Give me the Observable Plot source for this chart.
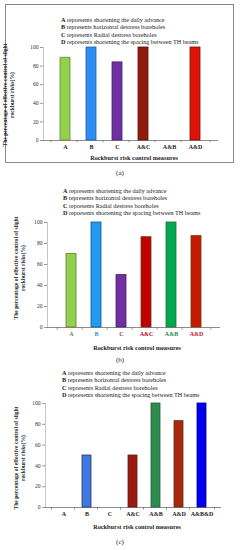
<!DOCTYPE html>
<html><head><meta charset="utf-8">
<script src="https://cdn.jsdelivr.net/npm/d3@7"></script>
<script src="https://cdn.jsdelivr.net/npm/@observablehq/plot@0.6"></script>
<style>
body{margin:0;background:#fff;font-family:"Liberation Serif",serif;}
#root{position:relative;width:240px;height:550px;overflow:hidden;}
.panel{position:absolute;left:0;width:240px;}
.panel svg{position:absolute;left:0;top:0;overflow:visible;}
.leg{position:absolute;font-size:6.2px;white-space:nowrap;color:#222;line-height:1;}
.leg b{font-weight:bold;}
.xt{position:absolute;font-size:6.3px;font-weight:bold;white-space:nowrap;transform:translateX(-50%);color:#222;}
.cap{position:absolute;font-size:7px;white-space:nowrap;transform:translateX(-50%);color:#222;}
.yt{position:absolute;font-size:5.6px;font-weight:bold;white-space:nowrap;transform-origin:0 0;color:#222;line-height:1;}
.box{position:absolute;border:1px solid #8a8a8a;}
</style></head>
<body><div id="root"></div>
<script>
const legendLines = [
  ["A", " represents shortening the daily  advance"],
  ["B", " represents  horizontal destress boreholes"],
  ["C", " represents Radial destress boreholes"],
  ["D", " represents shortening the spacing between TH beams"]
];
const yTicks = [0, 20, 40, 60, 80, 100];
const xTitle = "Rockburst risk control measures";
const yTitle1 = "The percentage of effective control of slight";
const yTitle2 = "rockburst risks(%)";

const catsA = ["A", "B", "C", "A&C", "A&B", "A&D"];
const valsA = [89, 100, 84, 100, null, 100];
const fillA = ["#92d050", "#2f8cf0", "#7030a0", "#8e1b0c", "#ffffff", "#e01208"];
const lineA = ["#6b8a2a", "#1f5fb0", "#4a2070", "#5a1208", "#ffffff", "#6a1a08"];

const catsB = ["A", "B", "C", "A&C", "A&B", "A&D"];
const valsB = [70, 100, 50, 86, 100, 87];
const fillB = ["#92d050", "#1f9bf0", "#7030a0", "#c00000", "#00a850", "#c41a00"];
const lineB = ["#6b7a2a", "#20508a", "#4a2070", "#6a3a10", "#2a6a3a", "#6a3a10"];
const labB  = ["#6b8a2a", "#1f8fe0", "#7030a0", "#b00010", "#1a8a4a", "#c01030"];

const catsC = ["A", "B", "C", "A&C", "A&B", "A&D", "A&B&D"];
const valsC = [0, 50, 0, 50, 100, 83, 100];
const fillC = ["#ffffff", "#3c7ae0", "#ffffff", "#9a1a10", "#2e8b50", "#a8280c", "#0000f0"];
const lineC = ["#ffffff", "#303060", "#ffffff", "#5a2010", "#2a5a3a", "#6a2a10", "#00008a"];

function panel(cfg) {
  const root = document.getElementById("root");
  const div = document.createElement("div");
  div.className = "panel";
  div.style.top = cfg.top + "px";
  div.style.height = cfg.height + "px";
  root.appendChild(div);

  if (cfg.box) {
    const b = document.createElement("div");
    b.className = "box";
    Object.assign(b.style, cfg.box);
    div.appendChild(b);
  }

  const data = cfg.cats.map((c, i) => ({cat: c, value: cfg.vals[i]}));
  const bars = data.filter(d => d.value != null && d.value > 0);
  const n = cfg.cats.length;
  const step = (240 - cfg.ml - cfg.mr) / n;

  const marks = [
    Plot.frame({anchor: "left", stroke: "#b8b8b8", strokeWidth: 0.8}),
    Plot.frame({anchor: "bottom", stroke: "#707070", strokeWidth: 0.8}),
    Plot.ruleX(cfg.cats, {x: d => d, dx: -step / 2, y1: 0, y2: -2.6, stroke: "#707070", strokeWidth: 0.7}),
    Plot.ruleX([cfg.cats[n - 1]], {x: d => d, dx: step / 2, y1: 0, y2: -2.6, stroke: "#707070", strokeWidth: 0.7}),
    Plot.barY(bars, {x: "cat", y: "value", fill: "cat", stroke: d => cfg.line[cfg.cats.indexOf(d.cat)], strokeWidth: 0.8}),
    Plot.axisY({ticks: yTicks, tickSize: 3, tickPadding: 2, fontSize: 5.6, fill: "#333", stroke: "#999", tickFormat: d => d, label: null}),
    Plot.axisX({tickSize: 0, tickPadding: 4, fontSize: 6, fontWeight: "bold",
      fill: cfg.labColors ? (d => cfg.labColors[cfg.cats.indexOf(d)]) : "#222", label: null})
  ];

  const svg = Plot.plot({
    width: 240, height: cfg.height,
    marginTop: cfg.mt, marginBottom: cfg.mb, marginLeft: cfg.ml, marginRight: cfg.mr,
    style: {fontFamily: "Liberation Serif, serif", background: "transparent"},
    x: {domain: cfg.cats, padding: cfg.pad, axis: null, label: null},
    y: {domain: [0, 100], axis: null, label: null},
    color: {domain: cfg.cats, range: cfg.fill},
    marks
  });
  div.appendChild(svg);

  legendLines.forEach((l, i) => {
    const e = document.createElement("div");
    e.className = "leg";
    e.style.left = cfg.legX + "px";
    e.style.top = (cfg.legY + i * 7.3) + "px";
    e.innerHTML = "<b>" + l[0] + "</b>" + l[1];
    div.appendChild(e);
  });

  const xt = document.createElement("div");
  xt.className = "xt";
  xt.textContent = xTitle;
  xt.style.left = cfg.xtX + "px";
  xt.style.top = cfg.xtY + "px";
  div.appendChild(xt);

  const cap = document.createElement("div");
  cap.className = "cap";
  cap.textContent = cfg.caption;
  cap.style.left = "120px";
  cap.style.top = cfg.capY + "px";
  div.appendChild(cap);

  [[yTitle1, cfg.ytX1], [yTitle2, cfg.ytX2]].forEach(([t, x]) => {
    const e = document.createElement("div");
    e.className = "yt";
    e.textContent = t;
    e.style.left = x + "px";
    e.style.top = cfg.ytY + "px";
    e.style.transform = "rotate(-90deg) translateX(-50%)";
    div.appendChild(e);
  });
}

panel({top: 0, height: 180, cats: catsA, vals: valsA, fill: fillA, line: lineA,
  mt: 47, mb: 40, ml: 43, mr: 23, pad: 0.62,
  legX: 61, legY: 17, xtX: 134, xtY: 154, capY: 169, ytX1: 3, ytX2: 10, ytY: 95,
  caption: "(a)", box: {left: "5px", top: "4px", width: "227px", height: "157px"}});

panel({top: 180, height: 185, cats: catsB, vals: valsB, fill: fillB, line: lineB, labColors: labB,
  mt: 42, mb: 38, ml: 47, mr: 21, pad: 0.62,
  legX: 63, legY: 8, xtX: 137, xtY: 164, capY: 176, ytX1: 14, ytX2: 21, ytY: 88,
  caption: "(b)"});

panel({top: 360, height: 190, cats: catsC, vals: valsC, fill: fillC, line: lineC,
  mt: 43, mb: 43, ml: 45, mr: 20, pad: 0.6,
  legX: 62, legY: 10, xtX: 137, xtY: 163, capY: 178, ytX1: 14, ytX2: 21, ytY: 98,
  caption: "(c)"});
</script></body></html>
